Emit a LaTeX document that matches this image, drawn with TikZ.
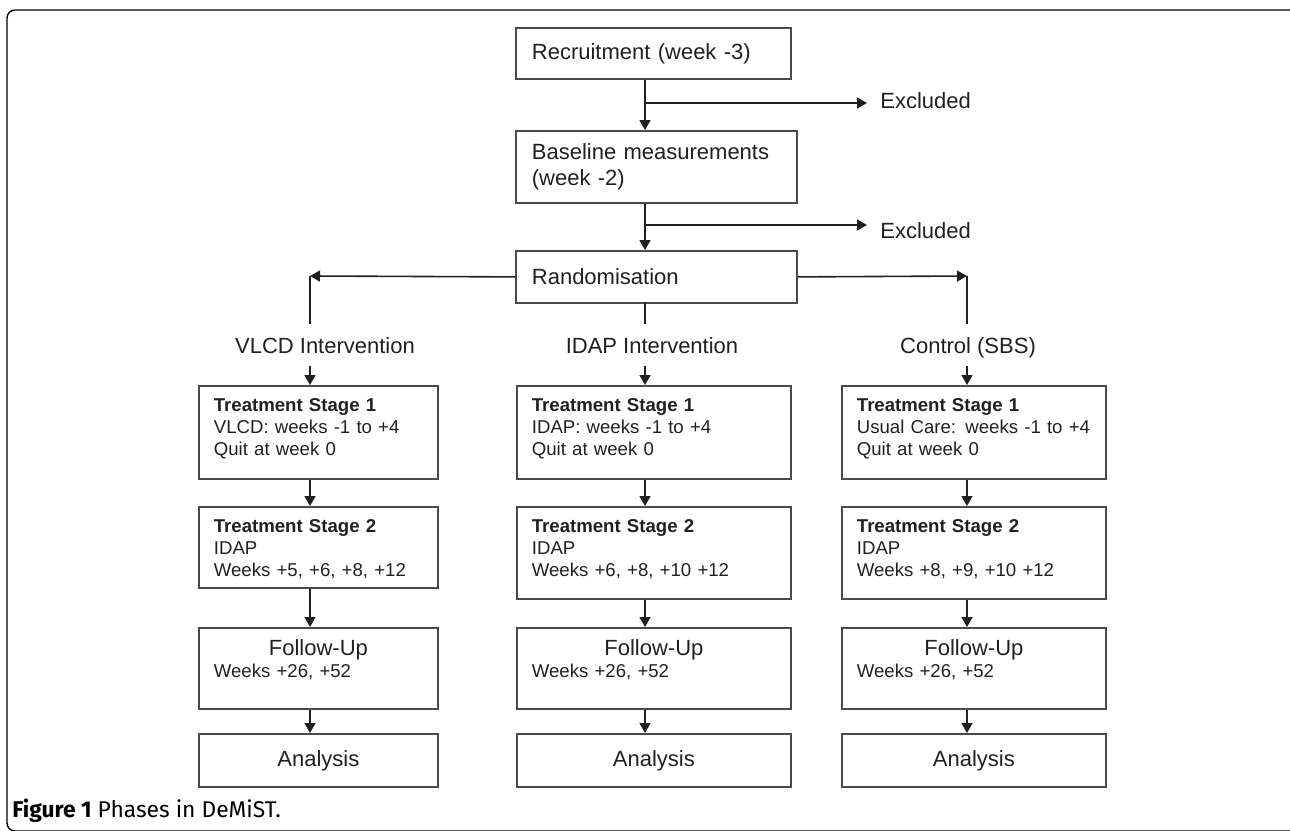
\documentclass[tikz,border=0pt]{standalone}
\usepackage{fontspec}
\setmainfont{Liberation Sans}
\newfontfamily\capfont{Fira Sans}
\usepackage{tikz}
\usetikzlibrary{arrows.meta,positioning}

\definecolor{ink}{HTML}{231F20}
\definecolor{edge}{HTML}{4A4A4A}

\newcommand{\bigtxt}{\fontsize{11}{13}\selectfont}
\newcommand{\smalltxt}{\fontsize{9.3}{11}\selectfont}

\tikzset{
  arr/.style={-{Triangle[length=5pt,width=5.5pt]}},
  conn/.style={draw=ink, line width=0.8pt},
  box/.style={draw=edge, line width=0.9pt, anchor=north west, align=left,
    inner xsep=7.5pt, inner ysep=6pt, text=ink},
  topbox/.style={box, font=\bigtxt, inner xsep=8pt},
  stagebox/.style={box, font=\smalltxt, text height=7pt},
  followbox/.style={box, font=\smalltxt, text height=7.6pt, text depth=20.9pt},
  anabox/.style={box, align=center, font=\bigtxt, minimum height=26.5pt},
  armlabel/.style={font=\bigtxt, text=ink, inner xsep=0pt, inner ysep=6.5pt,
    text height=8pt, text depth=0pt, anchor=base},
  excl/.style={font=\bigtxt, text=ink, inner xsep=0pt, anchor=base west}
}

\begin{document}
\begin{tikzpicture}[x=0.5pt, y=-0.5pt]
\useasboundingbox (0,0) rectangle (1290,830);

% Frame
\draw[line width=0.7pt, rounded corners=4pt] (7,10) rectangle (1300,831);

% Enrolment
\node[topbox, text width=121.5pt, minimum height=25.5pt] (rec) at (515,27) {Recruitment (week -3)};
\node[topbox, text width=124.5pt, minimum height=36pt] (base) at (515,130) {Baseline measurements\\(week -2)};
\node[topbox, text width=124.5pt, minimum height=26pt] (rand) at (515,250) {Randomisation};
\node[excl] (excl1) at (880,108) {Excluded};
\node[excl] (excl2) at (880,238) {Excluded};

\coordinate (ex1) at (645,103);
\coordinate (ex2) at (645,225);
\coordinate (vtop) at (310,276);
\coordinate (itop) at (645,302);
\coordinate (ctop) at (967,276);

\draw[conn,arr] (rec.south -| ex1) -- (base.north -| ex1);
\draw[conn,arr,shorten >=6.5pt] (ex1) -- (ex1 -| excl1.west);
\draw[conn,arr] (base.south -| ex1) -- (rand.north -| ex1);
\draw[conn,arr,shorten >=6.5pt] (ex2) -- (ex2 -| excl2.west);

% Arms
\node[armlabel] (vlab) at (325,353) {VLCD Intervention};
\node[armlabel] (ilab) at (652,353) {IDAP Intervention};
\node[armlabel] (clab) at (968,353) {Control (SBS)};

\draw[conn,arr] (rand.west) -- (vtop);
\draw[conn,arr] (rand.east) -- (ctop);
\draw[conn] (vtop) -- (vtop |- vlab.north);
\draw[conn] (itop) -- (itop |- ilab.north);
\draw[conn] (ctop) -- (ctop |- clab.north);

% VLCD column
\node[stagebox, text width=104.5pt, text depth=27.5pt] (v1) at (198,385)
  {\textbf{Treatment Stage 1}\\VLCD: weeks -1 to +4\\Quit at week 0};
\node[stagebox, text width=104.5pt, text depth=21.5pt] (v2) at (198,506)
  {\textbf{Treatment Stage 2}\\IDAP\\Weeks +5, +6, +8, +12};
\node[followbox, text width=104.5pt] (vf) at (198,627)
  {{\bigtxt\centering Follow-Up\par}Weeks +26, +52};
\node[anabox, minimum width=119.5pt] (va) at (198,733) {Analysis};

% IDAP column
\node[stagebox, text width=122pt, text depth=27.5pt] (i1) at (516,385)
  {\textbf{Treatment Stage 1}\\IDAP: weeks -1 to +4\\Quit at week 0};
\node[stagebox, text width=122pt, text depth=27pt] (i2) at (516,506)
  {\textbf{Treatment Stage 2}\\IDAP\\Weeks +6, +8, +10 +12};
\node[followbox, text width=122pt] (if) at (516,627)
  {{\bigtxt\centering Follow-Up\par}Weeks +26, +52};
\node[anabox, minimum width=137pt] (ia) at (516,733) {Analysis};

% Control column
\node[stagebox, text width=117pt, text depth=27.5pt] (c1) at (841,385)
  {\textbf{Treatment Stage 1}\\Usual Care: weeks -1 to +4\\Quit at week 0};
\node[stagebox, text width=117pt, text depth=27pt] (c2) at (841,506)
  {\textbf{Treatment Stage 2}\\IDAP\\Weeks +8, +9, +10 +12};
\node[followbox, text width=117pt] (cf) at (841,627)
  {{\bigtxt\centering Follow-Up\par}Weeks +26, +52};
\node[anabox, minimum width=132pt] (ca) at (841,733) {Analysis};

\foreach \c in {v,i,c} {
  \draw[conn,arr] (\c lab.south -| \c top) -- (\c 1.north -| \c top);
  \draw[conn,arr] (\c 1.south -| \c top) -- (\c 2.north -| \c top);
  \draw[conn,arr] (\c 2.south -| \c top) -- (\c f.north -| \c top);
  \draw[conn,arr] (\c f.south -| \c top) -- (\c a.north -| \c top);
}

% Caption
\node[anchor=base west, inner sep=0pt, font=\capfont\fontsize{11.4}{13}\selectfont] (cap) at (12,817)
  {\textbf{Figure 1} Phases in DeMiST.};

\end{tikzpicture}
\end{document}
